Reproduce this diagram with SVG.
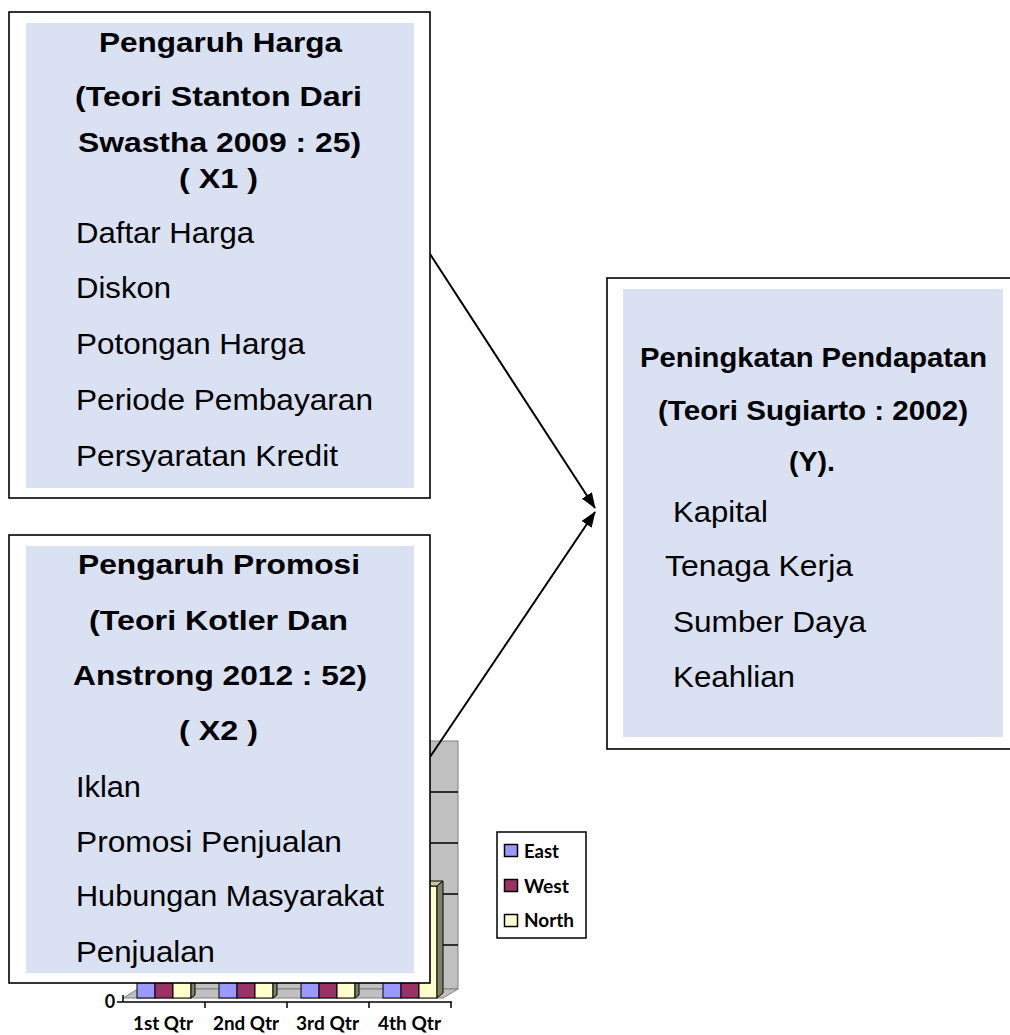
<svg xmlns="http://www.w3.org/2000/svg" width="1010" height="1035" viewBox="0 0 1010 1035">
<defs>
<marker id="arr" viewBox="0 0 16 12" refX="15" refY="6" markerWidth="16" markerHeight="12" markerUnits="userSpaceOnUse" orient="auto">
<path d="M0,0 L16,6 L0,12 Z" fill="#000"/>
</marker>
<style>
.outer{fill:#fff;stroke:#000;stroke-width:1.6}
.inner{fill:#D9E1F2}
.b{font-family:"Liberation Sans",Arial,sans-serif;font-weight:bold;font-size:28px;fill:#000}
.r{font-family:"Liberation Sans",Arial,sans-serif;font-size:29.5px;fill:#000}
.c{font-family:Lato,"Open Sans",sans-serif;font-weight:bold;font-size:18px;fill:#000}
.grid{stroke:#000;stroke-width:1.5}
.bar{stroke:#000;stroke-width:1}
.conn{stroke:#000;stroke-width:2;fill:none}
</style>
</defs>
<rect width="1010" height="1035" fill="#fff"/>

<g id="chart">
<rect x="138" y="741" width="320" height="248" fill="#C0C0C0" stroke="#808080" stroke-width="1"/>
<line class="grid" x1="138" y1="792" x2="458" y2="792"/>
<line class="grid" x1="138" y1="843" x2="458" y2="843"/>
<line class="grid" x1="138" y1="894" x2="458" y2="894"/>
<line class="grid" x1="138" y1="945" x2="458" y2="945"/>
<polygon points="123,998 443,998 458,989 138,989" fill="#C0C0C0" stroke="#808080" stroke-width="1"/>
<g id="bars">
<rect class="bar" x="137" y="960" width="18" height="38" fill="#9999FF"/>
<rect class="bar" x="155" y="960" width="18" height="38" fill="#993366"/>
<rect class="bar" x="173" y="960" width="18" height="38" fill="#FFFFCC"/>
<polygon points="191,960 195,957 195,995 191,998" fill="#808066" stroke="#000" stroke-width="1"/>
<rect class="bar" x="219" y="960" width="18" height="38" fill="#9999FF"/>
<rect class="bar" x="237" y="960" width="18" height="38" fill="#993366"/>
<rect class="bar" x="255" y="960" width="18" height="38" fill="#FFFFCC"/>
<polygon points="273,960 277,957 277,995 273,998" fill="#808066" stroke="#000" stroke-width="1"/>
<rect class="bar" x="301" y="960" width="18" height="38" fill="#9999FF"/>
<rect class="bar" x="319" y="960" width="18" height="38" fill="#993366"/>
<rect class="bar" x="337" y="960" width="18" height="38" fill="#FFFFCC"/>
<polygon points="355,960 359,957 359,995 355,998" fill="#808066" stroke="#000" stroke-width="1"/>
<rect class="bar" x="383" y="960" width="18" height="38" fill="#9999FF"/>
<rect class="bar" x="401" y="960" width="18" height="38" fill="#993366"/>
<rect class="bar" x="419" y="886" width="18" height="112" fill="#FFFFCC"/>
<polygon points="419,886 425,881 443,881 437,886" fill="#C8C890" stroke="#000" stroke-width="1"/>
<polygon points="437,886 443,881 443,993 437,998" fill="#808066" stroke="#000" stroke-width="1"/>
</g>
<line x1="117" y1="1002" x2="452" y2="1002" stroke="#000" stroke-width="1.5"/>
<line x1="123" y1="995" x2="123" y2="1002" stroke="#000" stroke-width="1.5"/>
<line x1="205" y1="1002" x2="205" y2="1008" stroke="#000" stroke-width="1.5"/>
<line x1="287" y1="1002" x2="287" y2="1008" stroke="#000" stroke-width="1.5"/>
<line x1="369" y1="1002" x2="369" y2="1008" stroke="#000" stroke-width="1.5"/>
<line x1="451" y1="1002" x2="451" y2="1008" stroke="#000" stroke-width="1.5"/>
<text class="c" x="110" y="1008" text-anchor="middle">0</text>
<text class="c" x="133" y="1030" textLength="60" lengthAdjust="spacingAndGlyphs">1st Qtr</text>
<text class="c" x="213" y="1030" textLength="66" lengthAdjust="spacingAndGlyphs">2nd Qtr</text>
<text class="c" x="296" y="1030" textLength="63" lengthAdjust="spacingAndGlyphs">3rd Qtr</text>
<text class="c" x="378" y="1030" textLength="63" lengthAdjust="spacingAndGlyphs">4th Qtr</text>
<g id="legend">
<rect x="497" y="832" width="89" height="106" fill="#fff" stroke="#000" stroke-width="1.5"/>
<rect x="504.5" y="844.5" width="13" height="12" fill="#9999FF" stroke="#000" stroke-width="1.5"/>
<rect x="504.5" y="879.5" width="13" height="12" fill="#993366" stroke="#000" stroke-width="1.5"/>
<rect x="504.5" y="914.5" width="13" height="12" fill="#FFFFCC" stroke="#000" stroke-width="1.5"/>
<text class="c" x="524" y="858" textLength="35" lengthAdjust="spacingAndGlyphs">East</text>
<text class="c" x="524" y="893" textLength="45" lengthAdjust="spacingAndGlyphs">West</text>
<text class="c" x="524" y="927" textLength="50" lengthAdjust="spacingAndGlyphs">North</text>
</g>
</g>

<g id="connectors">
<line class="conn" x1="430" y1="254" x2="595" y2="508" marker-end="url(#arr)"/>
<line class="conn" x1="430" y1="757" x2="595" y2="512" marker-end="url(#arr)"/>
</g>

<g id="node-x1">
<rect class="outer" x="9" y="12" width="421" height="486"/>
<rect class="inner" x="26" y="23" width="388" height="465"/>
<text class="b" x="99" y="52" textLength="243" lengthAdjust="spacingAndGlyphs">Pengaruh Harga</text>
<text class="b" x="75" y="106" textLength="287" lengthAdjust="spacingAndGlyphs">(Teori Stanton Dari</text>
<text class="b" x="78" y="152" textLength="283" lengthAdjust="spacingAndGlyphs">Swastha 2009 : 25)</text>
<text class="b" x="179" y="188" textLength="79" lengthAdjust="spacingAndGlyphs">( X1 )</text>
<text class="r" x="76" y="243" textLength="178" lengthAdjust="spacingAndGlyphs">Daftar Harga</text>
<text class="r" x="76" y="298" textLength="95" lengthAdjust="spacingAndGlyphs">Diskon</text>
<text class="r" x="76" y="354" textLength="229" lengthAdjust="spacingAndGlyphs">Potongan Harga</text>
<text class="r" x="76" y="410" textLength="297" lengthAdjust="spacingAndGlyphs">Periode Pembayaran</text>
<text class="r" x="76" y="466" textLength="262" lengthAdjust="spacingAndGlyphs">Persyaratan Kredit</text>
</g>

<g id="node-x2">
<rect class="outer" x="9" y="535" width="421" height="448"/>
<rect class="inner" x="26" y="546" width="388" height="427"/>
<text class="b" x="78" y="574" textLength="282" lengthAdjust="spacingAndGlyphs">Pengaruh Promosi</text>
<text class="b" x="89" y="630" textLength="259" lengthAdjust="spacingAndGlyphs">(Teori Kotler Dan</text>
<text class="b" x="73" y="685" textLength="294" lengthAdjust="spacingAndGlyphs">Anstrong 2012 : 52)</text>
<text class="b" x="179" y="740" textLength="79" lengthAdjust="spacingAndGlyphs">( X2 )</text>
<text class="r" x="76" y="797" textLength="65" lengthAdjust="spacingAndGlyphs">Iklan</text>
<text class="r" x="76" y="852" textLength="266" lengthAdjust="spacingAndGlyphs">Promosi Penjualan</text>
<text class="r" x="76" y="906" textLength="308" lengthAdjust="spacingAndGlyphs">Hubungan Masyarakat</text>
<text class="r" x="76" y="962" textLength="139" lengthAdjust="spacingAndGlyphs">Penjualan</text>
</g>

<g id="node-y">
<rect class="outer" x="607" y="278" width="410" height="471"/>
<rect class="inner" x="623" y="289" width="380" height="448"/>
<text class="b" x="640" y="367" textLength="347" lengthAdjust="spacingAndGlyphs">Peningkatan Pendapatan</text>
<text class="b" x="658" y="420" textLength="310" lengthAdjust="spacingAndGlyphs">(Teori Sugiarto : 2002)</text>
<text class="b" x="789" y="471" textLength="46" lengthAdjust="spacingAndGlyphs">(Y).</text>
<text class="r" x="673" y="522" textLength="95" lengthAdjust="spacingAndGlyphs">Kapital</text>
<text class="r" x="665" y="576" textLength="188" lengthAdjust="spacingAndGlyphs">Tenaga Kerja</text>
<text class="r" x="673" y="632" textLength="193" lengthAdjust="spacingAndGlyphs">Sumber Daya</text>
<text class="r" x="673" y="687" textLength="122" lengthAdjust="spacingAndGlyphs">Keahlian</text>
</g>
</svg>
